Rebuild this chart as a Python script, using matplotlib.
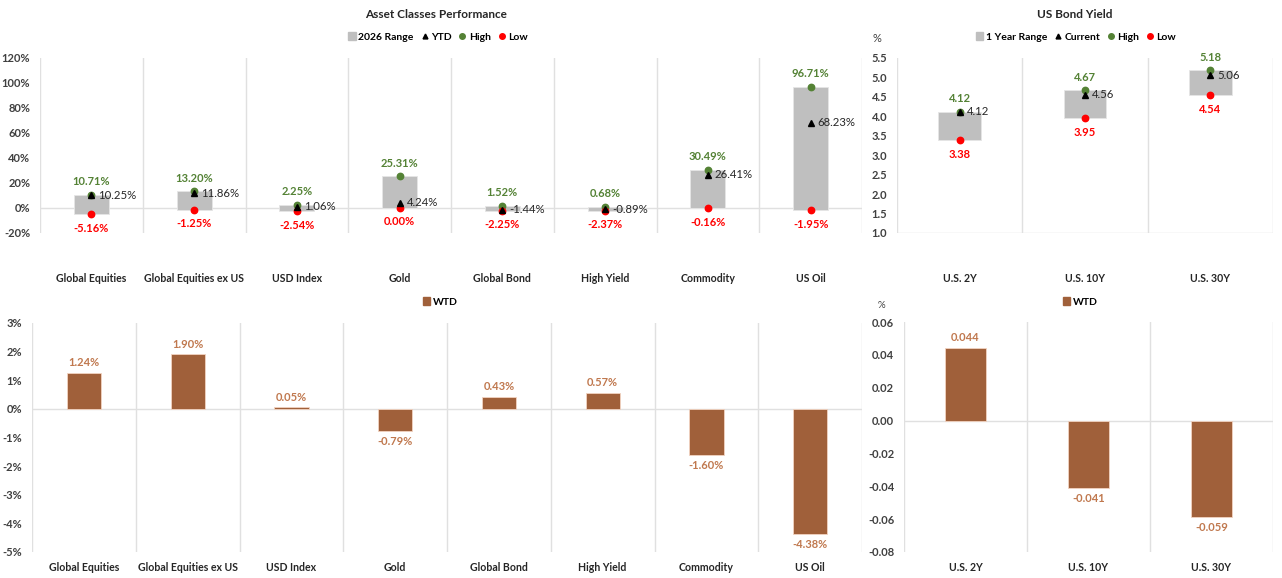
import matplotlib
matplotlib.use('Agg')
import matplotlib.pyplot as plt
from matplotlib.lines import Line2D
from matplotlib.patches import Patch
from matplotlib.ticker import FuncFormatter, MultipleLocator

plt.rcParams['font.family'] = ['Lato', 'DejaVu Sans']

# Asset classes data (%)
assets = ['Global Equities', 'Global Equities ex US', 'USD Index', 'Gold',
          'Global Bond', 'High Yield', 'Commodity', 'US Oil']
asset_high = [10.71, 13.20, 2.25, 25.31, 1.52, 0.68, 30.49, 96.71]
asset_low = [-5.16, -1.25, -2.54, 0.00, -2.25, -2.37, -0.16, -1.95]
asset_ytd = [10.25, 11.86, 1.06, 4.24, -1.44, -0.89, 26.41, 68.23]
asset_wtd = [1.24, 1.90, 0.05, -0.79, 0.43, 0.57, -1.60, -4.38]

# US bond yields (%)
bonds = ['U.S. 2Y', 'U.S. 10Y', 'U.S. 30Y']
bond_high = [4.12, 4.67, 5.18]
bond_low = [3.38, 3.95, 4.54]
bond_cur = [4.12, 4.56, 5.06]
bond_wtd = [0.044, -0.041, -0.059]

GRAY = '#BFBFBF'
GRID = '#E0E0E0'
GREEN = '#548235'
RED = '#FF0000'
BROWN = '#A0603A'
BROWN_TXT = '#C0784E'
TICK = '#404040'

fig = plt.figure(figsize=(12.82, 5.78), dpi=100)


def style_axes(ax, n, labels, label_pad):
    for s in ax.spines.values():
        s.set_visible(False)
    ax.set_xlim(-0.5, n - 0.5)
    for b in range(n + 1):
        ax.axvline(b - 0.5, color=GRID, lw=1, zorder=0)
    ax.set_xticks(range(n))
    ax.set_xticklabels(labels, fontsize=7.6, fontweight='bold', color='#262626')
    ax.tick_params(axis='x', length=0, pad=label_pad)
    ax.tick_params(axis='y', length=0, pad=7, labelsize=8, labelcolor=TICK)
    for t in ax.get_yticklabels():
        t.set_fontweight('bold')


def range_chart(ax, labels, high, low, cur, fmt, base, cur_name, range_name):
    n = len(labels)
    x = range(n)
    ax.bar(x, [h - l for h, l in zip(high, low)], bottom=low, width=0.34,
           color=GRAY, edgecolor='#E6E6E6', linewidth=0.6, zorder=2)
    ax.plot(x, cur, '^', color='black', ms=3.8, zorder=4, ls='none')
    ax.plot(x, high, 'o', color=GREEN, ms=4.6, zorder=3, ls='none')
    ax.plot(x, low, 'o', color=RED, ms=4.6, zorder=3, ls='none')
    for i in x:
        ax.annotate(fmt(high[i]), (i, high[i]), xytext=(0, 9.5), textcoords='offset points',
                    ha='center', va='center', color=GREEN, fontsize=8, fontweight='bold')
        ax.annotate(fmt(low[i]), (i, low[i]), xytext=(0, -10), textcoords='offset points',
                    ha='center', va='center', color=RED, fontsize=8, fontweight='bold')
        ax.annotate(fmt(cur[i]), (i, cur[i]), xytext=(5, 0), textcoords='offset points',
                    ha='left', va='center', color='#262626', fontsize=8.2)
    ax.axhline(base, color=GRID, lw=1, zorder=1)
    handles = [Patch(color=GRAY, label=range_name),
               Line2D([], [], marker='^', color='black', ls='none', ms=3.5, label=cur_name),
               Line2D([], [], marker='o', color=GREEN, ls='none', ms=4, label='High'),
               Line2D([], [], marker='o', color=RED, ls='none', ms=4, label='Low')]
    return handles


def wtd_chart(ax, labels, vals, fmt, off):
    x = range(len(labels))
    ax.bar(x, vals, width=0.33, color=BROWN, edgecolor='#F2D4C2', linewidth=0.6, zorder=2)
    ax.axhline(0, color=GRID, lw=1, zorder=1)
    for i, v in zip(x, vals):
        ax.annotate(fmt(v), (i, v), xytext=(0, off if v >= 0 else -off),
                    textcoords='offset points', ha='center', va='center',
                    color=BROWN_TXT, fontsize=8, fontweight='bold')


def legend(handles, x, y):
    fig.legend(handles=handles, loc='center', bbox_to_anchor=(x, y), ncol=len(handles),
               frameon=False, handlelength=0.7, handleheight=0.7,
               handletextpad=0.25, columnspacing=0.7,
               prop={'weight': 'bold', 'size': 7.5})


pct = lambda v: f'{v:.2f}%'

# Top-left: asset classes range
ax1 = fig.add_axes([0.0312, 0.5969, 0.6412, 0.3028])
ax1.set_ylim(-20, 120)
ax1.yaxis.set_major_locator(MultipleLocator(20))
ax1.yaxis.set_major_formatter(FuncFormatter(lambda v, p: f'{v:.0f}%'))
h1 = range_chart(ax1, assets, asset_high, asset_low, asset_ytd, pct, 0, 'YTD', '2026 Range')
style_axes(ax1, len(assets), assets, 29)
fig.text(436 / 1282, 1 - 14 / 578, 'Asset Classes Performance', ha='center', va='center',
         fontsize=8.5, fontweight='bold', color='#262626')
legend(h1, 438 / 1282, 1 - 37 / 578)

# Top-right: US bond yield range
ax2 = fig.add_axes([0.6997, 0.5969, 0.2933, 0.3028])
ax2.set_ylim(1.0, 5.5)
ax2.yaxis.set_major_locator(MultipleLocator(0.5))
ax2.yaxis.set_major_formatter(FuncFormatter(lambda v, p: f'{v:.1f}'))
h2 = range_chart(ax2, bonds, bond_high, bond_low, bond_cur, lambda v: f'{v:.2f}', 1.0,
                 'Current', '1 Year Range')
style_axes(ax2, len(bonds), bonds, 29)
fig.text(1075 / 1282, 1 - 14 / 578, 'US Bond Yield', ha='center', va='center',
         fontsize=8.5, fontweight='bold', color='#262626')
fig.text(877 / 1282, 1 - 39 / 578, '%', ha='center', va='center', fontsize=8, color=TICK)
legend(h2, 1076 / 1282, 1 - 37 / 578)

# Bottom-left: asset WTD
ax3 = fig.add_axes([0.025, 0.045, 0.6474, 0.3962])
ax3.set_ylim(-5, 3)
ax3.yaxis.set_major_locator(MultipleLocator(1))
ax3.yaxis.set_major_formatter(FuncFormatter(lambda v, p: f'{v:.0f}%'))
wtd_chart(ax3, assets, asset_wtd, pct, 7.5)
style_axes(ax3, len(assets), assets, 7)
legend([Patch(color=BROWN, label='WTD')], 440 / 1282, 1 - 302 / 578)

# Bottom-right: bond WTD
ax4 = fig.add_axes([0.7051, 0.045, 0.2878, 0.3979])
ax4.set_ylim(-0.08, 0.06)
ax4.yaxis.set_major_locator(MultipleLocator(0.02))
ax4.yaxis.set_major_formatter(FuncFormatter(lambda v, p: f'{v:.2f}'))
wtd_chart(ax4, bonds, bond_wtd, lambda v: f'{v:.3f}', 7.5)
style_axes(ax4, len(bonds), bonds, 7)
fig.text(881 / 1282, 1 - 305 / 578, '%', ha='center', va='center', fontsize=7, color=TICK)
legend([Patch(color=BROWN, label='WTD')], 1080 / 1282, 1 - 302 / 578)

fig.savefig('out.png', dpi=100)
